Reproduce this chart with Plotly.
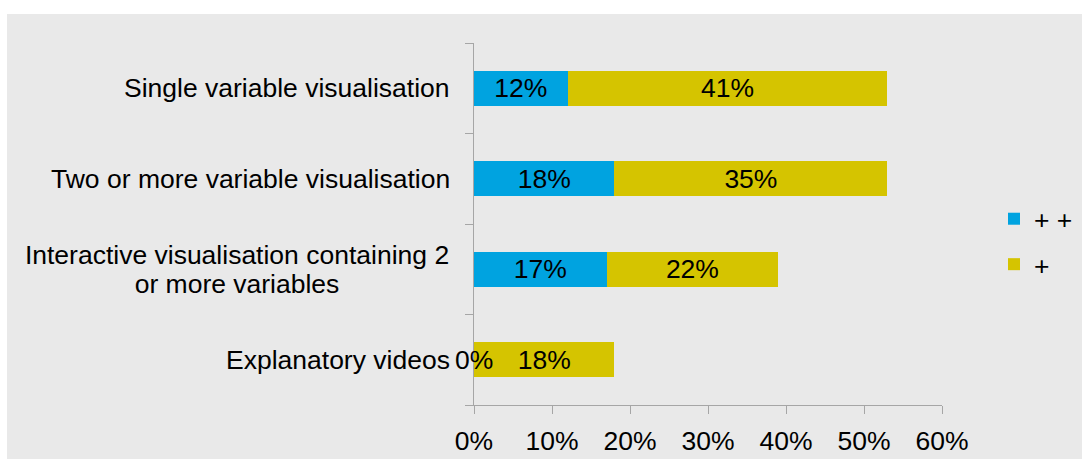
import plotly.graph_objects as go

# Survey categories, top to bottom
categories = [
    "Single variable visualisation",
    "Two or more variable visualisation",
    "Interactive visualisation containing 2<br>or more variables",
    "Explanatory videos",
]
# Share of respondents (%)
very_useful = [12, 18, 17, 0]    # "+ +"
useful = [41, 35, 22, 18]        # "+"
series_names = ["+ +", "+"]
x_ticks = [0, 10, 20, 30, 40, 50, 60]

BLUE = "#00A3E0"
YELLOW = "#D5C400"
FONT = "Liberation Sans, Arial, sans-serif"
GRAY_BG = "#E9E9E9"
FS = 26.5

W, H = 1082, 459
L, R, T, B = 474, 140, 43, 54
pw, ph = W - L - R, H - T - B

fig = go.Figure()
for name, vals, color in [(series_names[0], very_useful, BLUE), (series_names[1], useful, YELLOW)]:
    fig.add_trace(go.Bar(
        y=categories,
        x=vals,
        orientation="h",
        name=name,
        legendgroup=name,
        marker=dict(color=color, line=dict(width=0)),
        text=[f"{v}%" if v > 0 else "" for v in vals],
        textposition="inside",
        insidetextanchor="middle",
        textangle=0,
        constraintext="none",
        textfont=dict(family=FONT, size=FS, color="black"),
        hoverinfo="skip",
    ))

annotations = []
# zero-width segments still show their value, centred on the axis
for cat, v in zip(categories, very_useful):
    if v == 0:
        annotations.append(dict(x=0, y=cat, xref="x", yref="y", text=f"{v}%",
                                showarrow=False, xanchor="center", yanchor="middle",
                                font=dict(family=FONT, size=FS, color="black")))
# category labels; wrapped labels get tighter line spacing and centred lines
LINE_GAP = 29
for cat in categories:
    lines = cat.split("<br>")
    n = len(lines)
    for i, line in enumerate(lines):
        ann = dict(x=0, y=cat, xref="paper", yref="y", text=line,
                   showarrow=False, xanchor="right", yanchor="middle",
                   xshift=-22, yshift=((n - 1) / 2 - i) * LINE_GAP,
                   font=dict(family=FONT, size=FS, color="black"))
        if n > 1:
            ann.update(width=426, align="center")
        annotations.append(ann)

fig.update_layout(
    width=W, height=H,
    margin=dict(l=L, r=R, t=T, b=B, pad=0, autoexpand=False),
    paper_bgcolor="white",
    plot_bgcolor=GRAY_BG,
    barmode="stack",
    bargap=0.61,
    font=dict(family=FONT, size=FS, color="black"),
    xaxis=dict(
        range=[0, 60], tickvals=x_ticks, ticktext=[f"{t}%" for t in x_ticks],
        showgrid=False, zeroline=False, showline=True, linecolor="#A6A6A6", linewidth=1,
        ticks="outside", ticklen=8, tickcolor="#A6A6A6", ticklabelstandoff=4,
        tickfont=dict(family=FONT, size=FS, color="black"), fixedrange=True,
        automargin=False,
    ),
    yaxis=dict(
        categoryorder="array", categoryarray=categories[::-1],
        showgrid=False, zeroline=False, showline=True, linecolor="#A6A6A6", linewidth=1,
        ticks="outside", ticklen=8, tickcolor="#A6A6A6", tickson="boundaries",
        showticklabels=False, fixedrange=True, automargin=False,
    ),
    legend=dict(
        x=(994 - L) / pw, y=(H - B - 195) / ph, xanchor="left", yanchor="top",
        traceorder="grouped", tracegroupgap=8, bgcolor="rgba(0,0,0,0)",
        font=dict(family=FONT, size=FS, color="black"),
    ),
    annotations=annotations,
    shapes=[dict(
        type="rect", xref="paper", yref="paper", layer="below",
        x0=(7 - L) / pw, x1=(W - L) / pw, y0=-B / ph, y1=(H - B - 14) / ph,
        fillcolor=GRAY_BG, line=dict(width=0),
    )],
)

fig.write_html("out.html")
